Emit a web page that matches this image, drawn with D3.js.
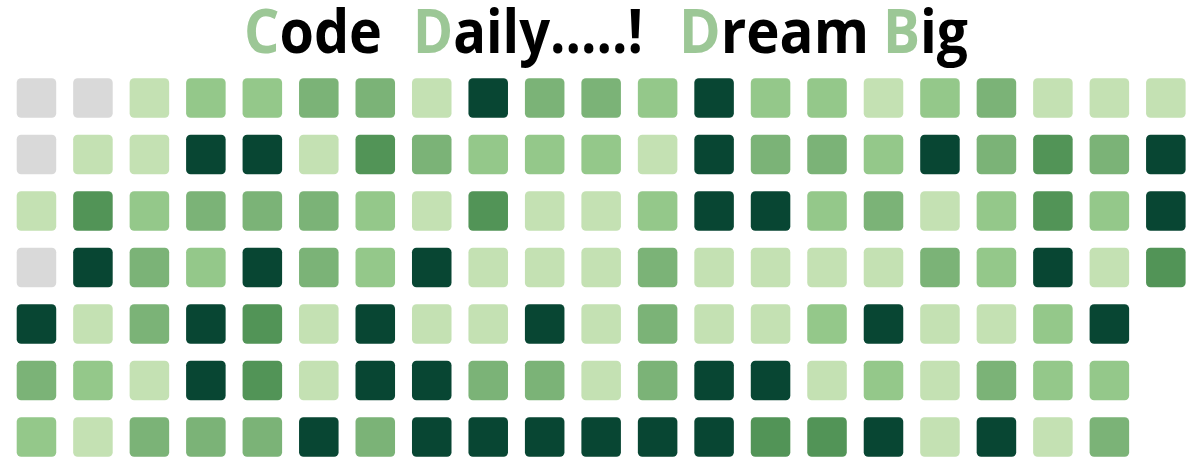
<!DOCTYPE html>
<html>
<head>
<meta charset="utf-8">
<script src="https://cdn.jsdelivr.net/npm/d3@7"></script>
<style>
  html, body { margin: 0; padding: 0; background: #ffffff; }
  svg { display: block; }
</style>
</head>
<body>
<svg id="chart" width="1201" height="461"></svg>
<script>
// ---- data ----
const weeks = ["W1","W2","W3","W4","W5","W6","W7","W8","W9","W10","W11","W12","W13","W14","W15","W16","W17","W18","W19","W20","W21"];
const days = ["Sun","Mon","Tue","Wed","Thu","Fri","Sat"];
// activity level per day row (0 = none ... 5 = most)
const sunLevels = [0,0,1,2,2,3,3,1,5,3,3,2,5,2,2,1,2,3,1,1,1];
const monLevels = [0,1,1,5,5,1,4,3,2,2,2,1,5,3,3,2,5,3,4,3,5];
const tueLevels = [1,4,2,3,3,3,2,1,4,1,1,2,5,5,2,3,1,2,4,2,5];
const wedLevels = [0,5,3,2,5,3,2,5,1,1,1,3,1,1,1,1,3,2,5,1,4];
const thuLevels = [5,1,3,5,4,1,5,1,1,5,1,3,1,1,2,5,1,1,2,5];
const friLevels = [3,2,1,5,4,1,5,5,3,3,1,3,5,5,1,2,1,3,2,2];
const satLevels = [2,1,3,3,3,5,3,5,5,5,5,5,5,4,4,5,1,5,1,3];
const levels = [0,1,2,3,4,5];
const palette = ["#d9d9d9","#c4e1b3","#94c88a","#7bb377","#529457","#084633"];
// title words: accent initial + rest
const titleInitials = ["C","D","D","B"];
const titleRests = ["ode","aily.....!","ream","ig"];

// ---- layout (positions, not data) ----
const wordX = [244, 413, 679, 883];
const wordW = [138, 230, 190, 85];
const titleBaseline = 53;

// ---- build ----
const rows = [sunLevels, monLevels, tueLevels, wedLevels, thuLevels, friLevels, satLevels];
const cells = [];
rows.forEach((vals, di) => vals.forEach((v, wi) => cells.push({week: weeks[wi], day: days[di], level: v})));

const svg = d3.select("#chart");

const x = d3.scaleBand().domain(weeks).range([16.7, 1185.6]).paddingInner(0.3).paddingOuter(0);
const y = d3.scaleBand().domain(days).range([78.3, 456.8]).paddingInner(0.3).paddingOuter(0);
const color = d3.scaleOrdinal().domain(levels).range(palette);

svg.append("g").selectAll("rect")
  .data(cells)
  .join("rect")
  .attr("x", d => x(d.week))
  .attr("y", d => y(d.day))
  .attr("width", x.bandwidth())
  .attr("height", y.bandwidth())
  .attr("rx", 4.5)
  .attr("ry", 4.5)
  .attr("fill", d => color(d.level));

const words = titleInitials.map((c, i) => ({initial: c, rest: titleRests[i], x: wordX[i], w: wordW[i]}));

const tg = svg.append("g")
  .attr("font-family", "'Open Sans', sans-serif")
  .attr("font-weight", 700)
  .attr("font-size", 60);

const wt = tg.selectAll("text")
  .data(words)
  .join("text")
  .attr("x", d => d.x)
  .attr("y", titleBaseline)
  .attr("text-anchor", "start")
  .attr("textLength", d => d.w)
  .attr("lengthAdjust", "spacingAndGlyphs");

wt.append("tspan").attr("fill", "#9cc796").text(d => d.initial);
wt.append("tspan").attr("fill", "#000000").text(d => d.rest);
</script>
</body>
</html>
